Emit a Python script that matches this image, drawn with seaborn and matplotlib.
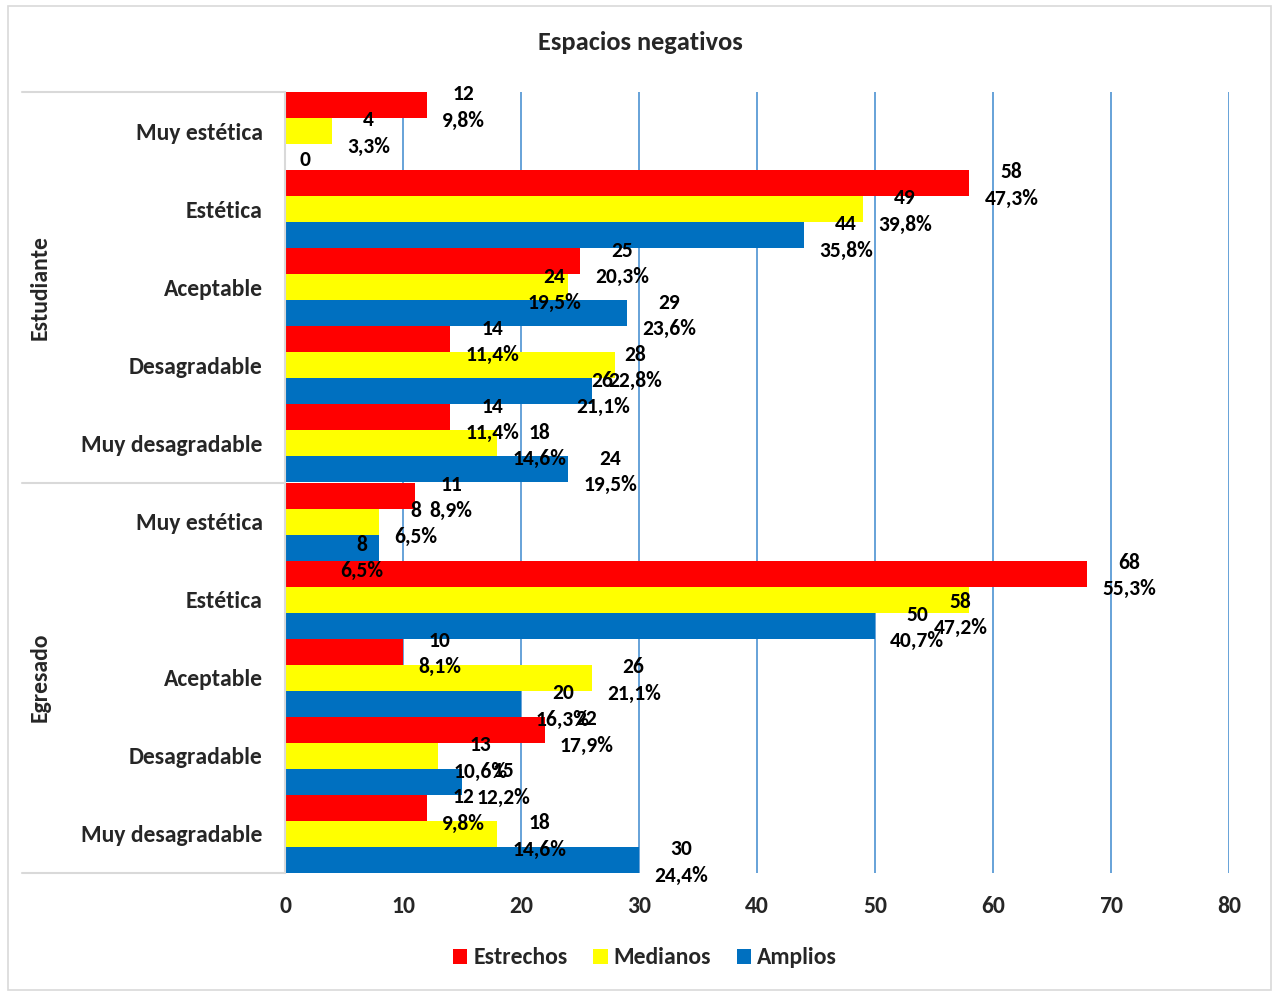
import numpy as np
import pandas as pd
import matplotlib
matplotlib.use("Agg")
import matplotlib.pyplot as plt
import seaborn as sns
from matplotlib.transforms import blended_transform_factory
from matplotlib.patches import Rectangle

# --- data -------------------------------------------------------------
grupos = ["Estudiante", "Egresado"]
categorias = ["Muy estética", "Estética", "Aceptable", "Desagradable", "Muy desagradable"]
series = ["Estrechos", "Medianos", "Amplios"]

# counts per row (Estudiante rows first, then Egresado rows)
estrechos = [12, 58, 25, 14, 14, 11, 68, 10, 22, 12]
medianos = [4, 49, 24, 28, 18, 8, 58, 26, 13, 18]
amplios = [0, 44, 29, 26, 24, 8, 50, 20, 15, 30]

# percentages shown beside each count
pct_estrechos = [9.8, 47.3, 20.3, 11.4, 11.4, 8.9, 55.3, 8.1, 17.9, 9.8]
pct_medianos = [3.3, 39.8, 19.5, 22.8, 14.6, 6.5, 47.2, 21.1, 10.6, 14.6]
pct_amplios = [0.0, 35.8, 23.6, 21.1, 19.5, 6.5, 40.7, 16.3, 12.2, 24.4]

x_ticks = [0, 10, 20, 30, 40, 50, 60, 70, 80]

colores = ["#FF0000", "#FFFF00", "#0070C0"]

# --- long-form table --------------------------------------------------
filas = [f"{g} · {c}" for g in grupos for c in categorias]
valores = [estrechos, medianos, amplios]
porcentajes = [pct_estrechos, pct_medianos, pct_amplios]
df = pd.DataFrame({
    "fila": filas * 3,
    "tamaño": [s for s in series for _ in filas],
    "n": [v for serie in valores for v in serie],
})

sns.set_theme(style="white")
plt.rcParams["font.family"] = ["Carlito", "DejaVu Sans"]
plt.rcParams["font.weight"] = "bold"

FS_LBL = 15.5   # data labels
FS_CAT = 17     # category / group names, legend
FS_TCK = 17     # x tick labels
FS_TIT = 19     # title

W, H = 1277, 994
fig = plt.figure(figsize=(W / 100, H / 100), dpi=100)
ax = fig.add_axes([285 / W, 1 - 873 / H, (1229 - 285) / W, (873 - 92) / H])

sns.barplot(
    data=df, y="fila", x="n", hue="tamaño", order=filas, hue_order=series,
    palette=colores, orient="h", width=1.0, saturation=1, linewidth=0,
    dodge=True, ax=ax,
)

ax.set_xlim(0, 80)
ax.set_ylim(len(filas) - 0.5, -0.5)
ax.set_xticks(x_ticks)
ax.set_xticklabels([str(t) for t in x_ticks], fontsize=FS_TCK, fontweight="bold")
ax.set_yticks(range(len(filas)))
ax.set_yticklabels([c for _ in grupos for c in categorias], fontsize=FS_CAT, fontweight="bold")
for t in ax.get_xticklabels() + ax.get_yticklabels():
    t.set_fontweight("bold")
ax.tick_params(axis="x", length=0, pad=16.5)
ax.tick_params(axis="y", length=0, pad=16)
ax.set_xlabel("")
ax.set_ylabel("")

# vertical gridlines
ax.set_axisbelow(True)
ax.xaxis.grid(True, color="#5B9BD5", linewidth=1.3)
ax.yaxis.grid(False)
for s in ["top", "right", "bottom"]:
    ax.spines[s].set_visible(False)
ax.spines["left"].set_color("#D9D9D9")
ax.spines["left"].set_linewidth(1.5)

# group separators and group names on the left
trans = blended_transform_factory(ax.transAxes, ax.transData)
x_left = (22 - 285) / (1229 - 285)
for yb in [-0.5, 4.5, 9.5]:
    ax.plot([x_left, 0], [yb, yb], color="#D9D9D9", linewidth=1.5,
            transform=trans, clip_on=False)
x_grp = (40 - 285) / (1229 - 285)
for i, g in enumerate(grupos):
    ax.text(x_grp, i * 5 + 2, g, rotation=90, ha="center", va="center",
            fontsize=FS_CAT, fontweight="bold", transform=trans)

# data labels: count over percentage, just past the bar end
desplaz = {(1, 2): (-56, 0), (1, 3): (-22, 0), (2, 3): (-31, 0),
           (2, 5): (-54, -8), (1, 6): (-51, -13)}
px2pt = 72 / 100
for si, cont in enumerate(ax.containers):
    for ri, bar in enumerate(cont):
        v = valores[si][ri]
        p = porcentajes[si][ri]
        yc = bar.get_y() + bar.get_height() / 2
        txt = f"{v}" if v == 0 else f"{v}\n{p:.1f}%".replace(".", ",")
        dx, dy = desplaz.get((si, ri), (0, 0))
        ax.annotate(txt, (v, yc), xytext=((15 + dx) * px2pt, (dy - 2.5) * px2pt),
                    textcoords="offset points", ha="left", va="center",
                    multialignment="center", fontsize=FS_LBL, fontweight="bold",
                    linespacing=1.4, color="black", annotation_clip=False)

# legend below the axis
sns.move_legend(ax, "center", bbox_to_anchor=(645 / W, 1 - 958 / H),
                bbox_transform=fig.transFigure, ncol=3, frameon=False,
                title=None, fontsize=FS_CAT, handlelength=0.6, handleheight=0.6,
                handletextpad=0.25, columnspacing=1.1)
for t in ax.get_legend().get_texts():
    t.set_fontweight("bold")

fig.text(640 / W, 1 - 43 / H, "Espacios negativos", ha="center", va="center",
         fontsize=FS_TIT, fontweight="bold")

fig.patches.append(Rectangle((8 / W, 1 - 990 / H), (1271 - 8) / W, (990 - 6) / H,
                             transform=fig.transFigure, fill=False,
                             edgecolor="#D9D9D9", linewidth=1.2))

fig.savefig("out.png", dpi=100, facecolor="white")
